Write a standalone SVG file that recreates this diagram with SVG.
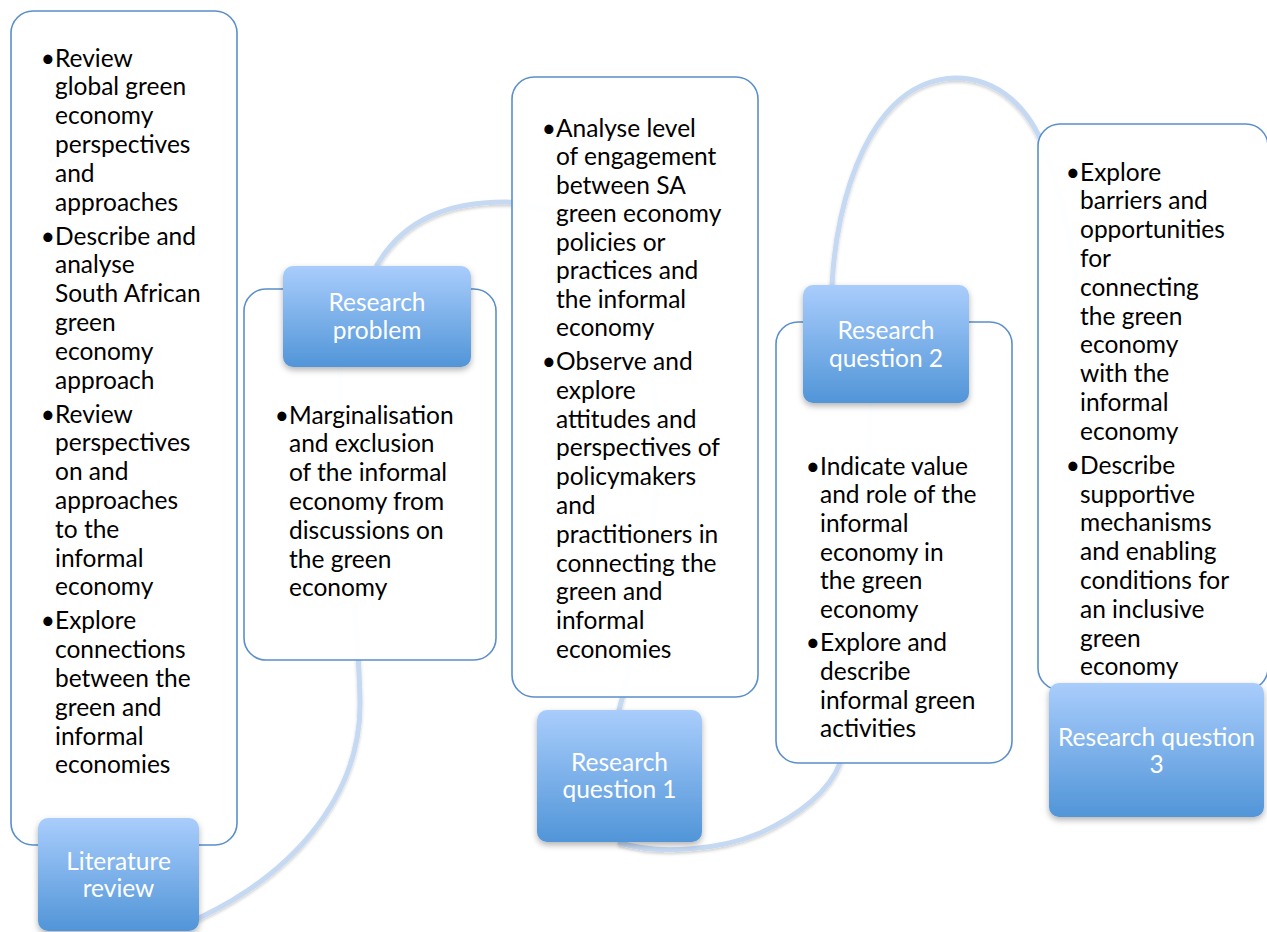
<svg xmlns="http://www.w3.org/2000/svg" width="1267" height="932" viewBox="0 0 1267 932">
<defs>
<linearGradient id="lg" x1="0" y1="0" x2="0" y2="1">
<stop offset="0" stop-color="#a9cdfc"/>
<stop offset="1" stop-color="#5195d8"/>
</linearGradient>
<filter id="sh" x="-20%" y="-20%" width="140%" height="150%">
<feDropShadow dx="0" dy="3" stdDeviation="3" flood-color="#000" flood-opacity="0.3"/>
</filter>
<filter id="csh" x="-20%" y="-20%" width="140%" height="140%">
<feDropShadow dx="0" dy="2" stdDeviation="1.5" flood-color="#000" flood-opacity="0.18"/>
</filter>
</defs>
<style>
.conn{fill:none;stroke:#c5d9f3;stroke-width:5;stroke-linecap:round;filter:url(#csh)}
.box{fill:#fff;fill-opacity:0.96;stroke:#5b8fca;stroke-width:1.6}
.lab{fill:url(#lg);filter:url(#sh)}
.t{font-family:Lato,"Liberation Sans",sans-serif;font-size:24.5px;fill:#000}
.b{font-family:Lato,"Liberation Sans",sans-serif;font-size:24.5px;fill:#000;text-anchor:end}
.lt{font-family:Lato,"Liberation Sans",sans-serif;font-size:24.5px;fill:#fff;text-anchor:middle}
</style>
<rect width="1267" height="932" fill="#fff"/>
<g id="connectors">
<path class="conn" d="M199,918 C300,870 362,790 360,700 C358,600 340,480 340,368"/>
<path class="conn" d="M377,265 C405,218 450,202 505,202 C560,202 605,240 630,290 C680,400 650,600 619,710"/>
<path class="conn" d="M620,843 C660,855 720,850 760,833 C800,815 830,790 840,763 C855,720 865,600 870,403"/>
<path class="conn" d="M832,285 C836,200 870,80 955,78 C1000,78 1030,110 1045,150 C1065,200 1075,260 1080,320 C1090,450 1100,600 1100,683"/>
</g>
<g id="box-literature">
<rect class="box" x="11" y="11" width="226" height="834" rx="22"/>
<text class="b"><tspan x="55" y="66.5">•</tspan><tspan x="55" y="244.5">•</tspan><tspan x="55" y="422.5">•</tspan><tspan x="55" y="629.3">•</tspan></text>
<text class="t"><tspan x="55" y="66.5">Review</tspan><tspan x="55" y="95.3">global green</tspan><tspan x="55" y="124.1">economy</tspan><tspan x="55" y="152.9">perspectives</tspan><tspan x="55" y="181.7">and</tspan><tspan x="55" y="210.5">approaches</tspan></text>
<text class="t"><tspan x="55" y="244.5">Describe and</tspan><tspan x="55" y="273.3">analyse</tspan><tspan x="55" y="302.1">South African</tspan><tspan x="55" y="330.9">green</tspan><tspan x="55" y="359.7">economy</tspan><tspan x="55" y="388.5">approach</tspan></text>
<text class="t"><tspan x="55" y="422.5">Review</tspan><tspan x="55" y="451.3">perspectives</tspan><tspan x="55" y="480.1">on and</tspan><tspan x="55" y="508.9">approaches</tspan><tspan x="55" y="537.7">to the</tspan><tspan x="55" y="566.5">informal</tspan><tspan x="55" y="595.3">economy</tspan></text>
<text class="t"><tspan x="55" y="629.3">Explore</tspan><tspan x="55" y="658.1">connections</tspan><tspan x="55" y="686.9">between the</tspan><tspan x="55" y="715.7">green and</tspan><tspan x="55" y="744.5">informal</tspan><tspan x="55" y="773.3">economies</tspan></text>
</g>
<g id="box-problem">
<rect class="box" x="244" y="289" width="252" height="371" rx="22"/>
<text class="b"><tspan x="289" y="423.5">•</tspan></text>
<text class="t"><tspan x="289" y="423.5">Marginalisation</tspan><tspan x="289" y="452.3">and exclusion</tspan><tspan x="289" y="481.1">of the informal</tspan><tspan x="289" y="509.9">economy from</tspan><tspan x="289" y="538.7">discussions on</tspan><tspan x="289" y="567.5">the green</tspan><tspan x="289" y="596.3">economy</tspan></text>
</g>
<g id="box-q1">
<rect class="box" x="512" y="77" width="246" height="620" rx="22"/>
<text class="b"><tspan x="556" y="136.5">•</tspan><tspan x="556" y="370">•</tspan></text>
<text class="t"><tspan x="556" y="136.5">Analyse level</tspan><tspan x="556" y="165">of engagement</tspan><tspan x="556" y="193.5">between SA</tspan><tspan x="556" y="222">green economy</tspan><tspan x="556" y="250.5">policies or</tspan><tspan x="556" y="279">practices and</tspan><tspan x="556" y="307.5">the informal</tspan><tspan x="556" y="336">economy</tspan></text>
<text class="t"><tspan x="556" y="370">Observe and</tspan><tspan x="556" y="398.8">explore</tspan><tspan x="556" y="427.6">attitudes and</tspan><tspan x="556" y="456.4">perspectives of</tspan><tspan x="556" y="485.2">policymakers</tspan><tspan x="556" y="514">and</tspan><tspan x="556" y="542.8">practitioners in</tspan><tspan x="556" y="571.6">connecting the</tspan><tspan x="556" y="600.4">green and</tspan><tspan x="556" y="629.2">informal</tspan><tspan x="556" y="658">economies</tspan></text>
</g>
<g id="box-q2">
<rect class="box" x="776" y="322" width="236" height="441" rx="22"/>
<text class="b"><tspan x="820" y="474.5">•</tspan><tspan x="820" y="651">•</tspan></text>
<text class="t"><tspan x="820" y="474.5">Indicate value</tspan><tspan x="820" y="503.2">and role of the</tspan><tspan x="820" y="531.9">informal</tspan><tspan x="820" y="560.6">economy in</tspan><tspan x="820" y="589.3">the green</tspan><tspan x="820" y="618">economy</tspan></text>
<text class="t"><tspan x="820" y="651">Explore and</tspan><tspan x="820" y="679.8">describe</tspan><tspan x="820" y="708.6">informal green</tspan><tspan x="820" y="737.4">activities</tspan></text>
</g>
<g id="box-q3">
<rect class="box" x="1038" y="124" width="230" height="566" rx="22"/>
<text class="b"><tspan x="1080" y="180.5">•</tspan><tspan x="1080" y="473.7">•</tspan></text>
<text class="t"><tspan x="1080" y="180.5">Explore</tspan><tspan x="1080" y="209.3">barriers and</tspan><tspan x="1080" y="238.1">opportunities</tspan><tspan x="1080" y="266.9">for</tspan><tspan x="1080" y="295.7">connecting</tspan><tspan x="1080" y="324.5">the green</tspan><tspan x="1080" y="353.3">economy</tspan><tspan x="1080" y="382.1">with the</tspan><tspan x="1080" y="410.9">informal</tspan><tspan x="1080" y="439.7">economy</tspan></text>
<text class="t"><tspan x="1080" y="473.7">Describe</tspan><tspan x="1080" y="502.5">supportive</tspan><tspan x="1080" y="531.3">mechanisms</tspan><tspan x="1080" y="560.1">and enabling</tspan><tspan x="1080" y="588.9">conditions for</tspan><tspan x="1080" y="617.7">an inclusive</tspan><tspan x="1080" y="646.5">green</tspan><tspan x="1080" y="675.3">economy</tspan></text>
</g>
<g id="label-literature">
<rect class="lab" x="38" y="818" width="161" height="113" rx="10"/>
<text class="lt"><tspan x="118.5" y="870">Literature</tspan><tspan x="118.5" y="897">review</tspan></text>
</g>
<g id="label-problem">
<rect class="lab" x="283" y="266" width="188" height="101" rx="10"/>
<text class="lt"><tspan x="377" y="310.5">Research</tspan><tspan x="377" y="338.5">problem</tspan></text>
</g>
<g id="label-q1">
<rect class="lab" x="537" y="710" width="165" height="132" rx="10"/>
<text class="lt"><tspan x="619.5" y="771">Research</tspan><tspan x="619.5" y="798">question 1</tspan></text>
</g>
<g id="label-q2">
<rect class="lab" x="803" y="285" width="166" height="118" rx="10"/>
<text class="lt"><tspan x="886" y="339">Research</tspan><tspan x="886" y="367">question 2</tspan></text>
</g>
<g id="label-q3">
<rect class="lab" x="1049" y="683" width="215" height="134" rx="10"/>
<text class="lt"><tspan x="1156.5" y="746">Research question</tspan><tspan x="1156.5" y="773">3</tspan></text>
</g>
</svg>
